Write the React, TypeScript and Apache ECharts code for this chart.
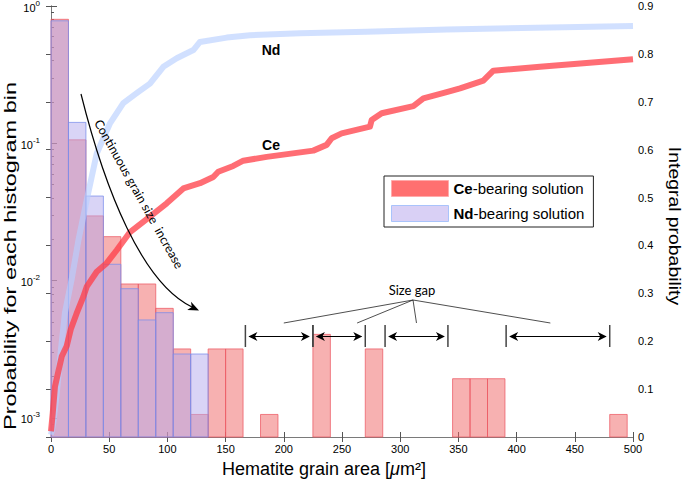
import React, { useEffect, useRef } from "react";
import * as echarts from "echarts";

// ---------- data ----------
const BIN_WIDTH = 15;
const LOG_MIN = -3.139; // log10 of the bottom of the left (log) axis
const LOG_EXPONENTS = [-3, -2, -1, 0];

const ceBinStart = [0, 15, 30, 45, 60, 75, 90, 105, 120, 135, 150, 180, 225, 270, 345, 360, 375, 480];
const ceProb = [0.8, 0.106, 0.0296, 0.0209, 0.00945, 0.00945, 0.00628, 0.00318, 0.00106, 0.00318, 0.00318, 0.00106, 0.00406, 0.00318, 0.00193, 0.00193, 0.00193, 0.00106];

const ndBinStart = [0, 15, 30, 45, 60, 75, 90, 105, 120];
const ndProb = [0.78, 0.142, 0.0413, 0.01315, 0.00873, 0.00517, 0.00584, 0.00292, 0.00292];

const ceArea = [0, 1.5, 3.4, 9.2, 13.5, 17, 22, 27.8, 30.7, 39.3, 47.8, 56.4, 67.9, 85, 99.4, 113.7, 128, 139.4, 143.7, 156.6, 165.2, 185.3, 225.3, 236.8, 241.1, 249.7, 274, 275.5, 284.1, 311.3, 319.9, 339.9, 351.4, 371.4, 380, 420.1, 500];
const ceIntegral = [0.012, 0.05, 0.105, 0.168, 0.19, 0.225, 0.258, 0.293, 0.314, 0.345, 0.363, 0.39, 0.428, 0.46, 0.488, 0.519, 0.53, 0.543, 0.554, 0.566, 0.577, 0.585, 0.598, 0.61, 0.624, 0.634, 0.648, 0.662, 0.676, 0.691, 0.707, 0.72, 0.728, 0.744, 0.765, 0.773, 0.789];

const ndArea = [0, 2, 4.9, 8, 12, 17.8, 23.5, 30.7, 39.3, 50.7, 62.1, 73.6, 85, 96.5, 108, 122.3, 128, 151, 171, 214, 271, 340, 500];
const ndIntegral = [0.005, 0.03, 0.09, 0.17, 0.26, 0.33, 0.41, 0.495, 0.592, 0.655, 0.697, 0.718, 0.738, 0.773, 0.791, 0.808, 0.825, 0.834, 0.839, 0.843, 0.846, 0.851, 0.858];

// size-gap markers (grain area), pairs of [start, end]
const gapStart = [167, 225, 287, 391];
const gapEnd = [225, 270, 341, 480];
// where the "Size gap" pointer lines land (grain area)
const gapPointer = [200, 263, 314, 429];

const X_TITLE = "Hematite grain area [{i|μ}m²]";
const Y_LEFT_TITLE = "Probability for each histogram bin";
const Y_RIGHT_TITLE = "Integral probability";

const toLog = (p: number) => Math.log10(p) - LOG_MIN;

const FONT = "'Liberation Sans', Arial, Helvetica, sans-serif";
const NOTE_FONT = "Lato, 'Open Sans', sans-serif";

export default function App() {
  const ref = useRef<HTMLDivElement>(null);
  useEffect(() => {
    if (!ref.current) return;
    const chart = echarts.init(ref.current, null, { renderer: "svg" });

    const majorTicks = LOG_EXPONENTS.map((e) => e - LOG_MIN);
    const minorTicks: number[] = [];
    for (let e = -4; e <= -1; e++) {
      for (let k = 2; k <= 9; k++) {
        const v = Math.log10(k * Math.pow(10, e)) - LOG_MIN;
        if (v >= 0 && v <= -LOG_MIN) minorTicks.push(v);
      }
    }

    const barItem = (fill: string, stroke: string) => (params: any, api: any) => {
      const p0 = api.coord([api.value(0), api.value(2)]);
      const p1 = api.coord([api.value(1), 0]);
      return {
        type: "rect",
        shape: { x: p0[0], y: p0[1], width: p1[0] - p0[0], height: p1[1] - p0[1] },
        style: { fill, stroke, lineWidth: 1 },
      };
    };

    const axisGray = "#7a7a7a";
    const tickStyle = { color: "#555", width: 1 };

    chart.setOption({
      animation: false,
      backgroundColor: "#fff",
      grid: { left: 51, right: 52, top: 6, bottom: 45, containLabel: false, outerBoundsMode: "none" },
      legend: {
        orient: "vertical",
        left: 384,
        top: 176,
        icon: "rect",
        itemWidth: 57,
        itemHeight: 16,
        itemGap: 8,
        padding: [4, 9, 5, 7],
        backgroundColor: "#fff",
        borderColor: "#222",
        borderWidth: 1,
        borderRadius: 0,
        selectedMode: false,
        data: [
          { name: "Ce-bearing solution", itemStyle: { color: "#ff7070", borderColor: "#ffaaaa", borderWidth: 1 } },
          { name: "Nd-bearing solution", itemStyle: { color: "#d9d0f5", borderColor: "#a9c3fb", borderWidth: 1 } },
        ],
        formatter: (name: string) =>
          name.startsWith("Ce") ? "{b|Ce}-bearing solution" : "{b|Nd}-bearing solution",
        textStyle: {
          fontFamily: FONT,
          fontSize: 15,
          color: "#000",
          rich: { b: { fontWeight: "bold", fontSize: 15, fontFamily: FONT, color: "#000" } },
        },
      },
      xAxis: [
        {
          type: "value",
          position: "bottom",
          min: 0,
          max: 500,
          interval: 50,
          axisLine: { lineStyle: { color: axisGray } },
          axisTick: { inside: true, length: 5, lineStyle: tickStyle },
          axisLabel: { color: "#000", fontSize: 11, fontFamily: FONT, margin: 6 },
          splitLine: { show: false },
        },
        {
          type: "value",
          position: "top",
          min: 0,
          max: 500,
          interval: 50,
          axisLine: { lineStyle: { color: axisGray } },
          axisTick: { inside: true, length: 5, lineStyle: tickStyle },
          axisLabel: { show: false },
          splitLine: { show: false },
        },
      ],
      yAxis: [
        {
          type: "value",
          position: "left",
          min: 0,
          max: -LOG_MIN,
          axisLine: { show: true, lineStyle: { color: axisGray } },
          axisTick: { inside: true, length: 6, lineStyle: tickStyle, customValues: majorTicks },
          axisLabel: { show: false },
          splitLine: { show: false },
        },
        {
          type: "value",
          position: "right",
          min: 0,
          max: 0.9,
          interval: 0.1,
          axisLine: { show: true, lineStyle: { color: axisGray } },
          axisTick: { inside: true, length: 5, lineStyle: tickStyle },
          axisLabel: {
            color: "#000",
            fontSize: 11,
            fontFamily: FONT,
            margin: 5,
            formatter: (v: number) => (v === 0 ? "0" : v.toFixed(1)),
          },
          splitLine: { show: false },
        },
        {
          type: "value",
          position: "left",
          min: 0,
          max: -LOG_MIN,
          axisLine: { show: false },
          axisTick: { show: true, inside: true, length: 3, lineStyle: tickStyle, customValues: minorTicks },
          axisLabel: { show: false },
          splitLine: { show: false },
        },
      ],
      series: [
        {
          name: "Ce-bearing solution",
          type: "custom",
          xAxisIndex: 0,
          yAxisIndex: 0,
          renderItem: barItem("rgba(239,99,99,0.5)", "rgba(236,90,100,0.75)"),
          encode: { x: [0, 1], y: 2 },
          data: ceBinStart.map((s, i) => [s, s + BIN_WIDTH, toLog(ceProb[i])]),
          z: 2,
        },
        {
          name: "Nd-bearing solution",
          type: "custom",
          xAxisIndex: 0,
          yAxisIndex: 0,
          renderItem: barItem("rgba(179,169,237,0.5)", "rgba(120,140,235,0.75)"),
          encode: { x: [0, 1], y: 2 },
          data: ndBinStart.map((s, i) => [s, s + BIN_WIDTH, toLog(ndProb[i])]),
          z: 3,
        },
        {
          name: "Nd integral",
          type: "line",
          xAxisIndex: 0,
          yAxisIndex: 1,
          showSymbol: false,
          symbol: "none",
          lineStyle: { color: "rgba(185,208,255,0.65)", width: 6, join: "round" },
          data: ndArea.map((x, i) => [x, ndIntegral[i]]),
          z: 4,
        },
        {
          name: "Ce integral",
          type: "line",
          xAxisIndex: 0,
          yAxisIndex: 1,
          showSymbol: false,
          symbol: "none",
          lineStyle: { color: "rgba(255,60,70,0.75)", width: 6, join: "round" },
          data: ceArea.map((x, i) => [x, ceIntegral[i]]),
          z: 5,
        },
      ],
    });

    // ---------- annotations ----------
    const px = (x: number) => chart.convertToPixel({ xAxisIndex: 0 }, x) as number;
    const py = (v: number) => chart.convertToPixel({ yAxisIndex: 0 }, v) as number;
    const arrowY = 336.5;
    const barTop = 325;
    const barBot = 347;
    const head = (tipX: number, dir: number) => ({
      type: "polygon",
      shape: {
        points: [
          [tipX, arrowY],
          [tipX - dir * 9, arrowY - 4.5],
          [tipX - dir * 6.5, arrowY],
          [tipX - dir * 9, arrowY + 4.5],
        ],
      },
      style: { fill: "#000" },
      z: 100,
    });
    const graphics: any[] = [];
    // log-axis tick labels (10^n)
    majorTicks.forEach((t, i) => {
      graphics.push({
        type: "text",
        x: 40,
        y: py(t),
        style: {
          text: `{b|10}{s|${LOG_EXPONENTS[i]}}`,
          textAlign: "right",
          textVerticalAlign: "middle",
          rich: {
            b: { fontSize: 11, fontFamily: FONT, fill: "#000", lineHeight: 14, verticalAlign: "bottom" },
            s: { fontSize: 8, fontFamily: FONT, fill: "#000", lineHeight: 14, verticalAlign: "top", padding: [0, 0, 2, 0] },
          },
        },
        z: 100,
      });
    });
    gapStart.forEach((s, i) => {
      const x0 = px(s);
      const x1 = px(gapEnd[i]);
      graphics.push({ type: "line", shape: { x1: x0, y1: barTop, x2: x0, y2: barBot }, style: { stroke: "#444", lineWidth: 1.5 }, z: 100 });
      graphics.push({ type: "line", shape: { x1: x1, y1: barTop, x2: x1, y2: barBot }, style: { stroke: "#444", lineWidth: 1.5 }, z: 100 });
      graphics.push({ type: "line", shape: { x1: x0 + 4, y1: arrowY, x2: x1 - 4, y2: arrowY }, style: { stroke: "#000", lineWidth: 1 }, z: 100 });
      graphics.push(head(x0 + 3, -1));
      graphics.push(head(x1 - 3, 1));
    });
    gapPointer.forEach((g) => {
      graphics.push({ type: "line", shape: { x1: 413, y1: 300, x2: px(g), y2: 323 }, style: { stroke: "#222", lineWidth: 0.8 }, z: 100 });
    });
    graphics.push({
      type: "text",
      x: 412,
      y: 290,
      style: { text: "Size gap", font: `13px ${NOTE_FONT}`, fill: "#000", textAlign: "center", textVerticalAlign: "middle" },
      z: 100,
    });
    // continuous growth arrow
    graphics.push({
      type: "bezierCurve",
      shape: { x1: 81, y1: 94, cpx1: 105, cpy1: 190, cpx2: 142, cpy2: 283, x2: 192, y2: 307 },
      style: { stroke: "#000", lineWidth: 1.2, fill: null },
      z: 100,
    });
    graphics.push({
      type: "polygon",
      shape: { points: [[199, 310.5], [187.2, 309.9], [191.8, 307.1], [191, 301.7]] },
      style: { fill: "#000" },
      z: 100,
    });
    graphics.push({
      type: "text",
      x: 139,
      y: 194,
      rotation: -1.06,
      style: {
        text: "Continuous grain size  increase",
        font: `12.5px ${NOTE_FONT}`,
        fill: "#000",
        textAlign: "center",
        textVerticalAlign: "middle",
      },
      z: 100,
    });
    graphics.push({
      type: "text",
      x: 271,
      y: 50,
      style: { text: "Nd", font: `bold 14px ${FONT}`, fill: "#000", textAlign: "center", textVerticalAlign: "middle" },
      z: 100,
    });
    graphics.push({
      type: "text",
      x: 271,
      y: 145,
      style: { text: "Ce", font: `bold 14px ${FONT}`, fill: "#000", textAlign: "center", textVerticalAlign: "middle" },
      z: 100,
    });
    // axis titles
    graphics.push({
      type: "text",
      x: 324,
      y: 469,
      style: {
        text: X_TITLE,
        font: `18px ${FONT}`,
        fill: "#000",
        textAlign: "center",
        textVerticalAlign: "middle",
        rich: { i: { fontStyle: "italic", fontSize: 18, fontFamily: FONT, fill: "#000" } },
      },
      z: 100,
    });
    graphics.push({
      type: "text",
      x: 10,
      y: 256,
      rotation: Math.PI / 2,
      scaleX: 1.38,
      style: { text: Y_LEFT_TITLE, font: `17px ${FONT}`, fill: "#000", textAlign: "center", textVerticalAlign: "middle" },
      z: 100,
    });
    graphics.push({
      type: "text",
      x: 675,
      y: 226,
      rotation: -Math.PI / 2,
      scaleX: 1.14,
      style: { text: Y_RIGHT_TITLE, font: `17px ${FONT}`, fill: "#000", textAlign: "center", textVerticalAlign: "middle" },
      z: 100,
    });
    chart.setOption({ graphic: { elements: graphics } });

    return () => chart.dispose();
  }, []);

  return <div ref={ref} style={{ position: "absolute", left: 0, top: 0, width: 685, height: 482 }} />;
}
